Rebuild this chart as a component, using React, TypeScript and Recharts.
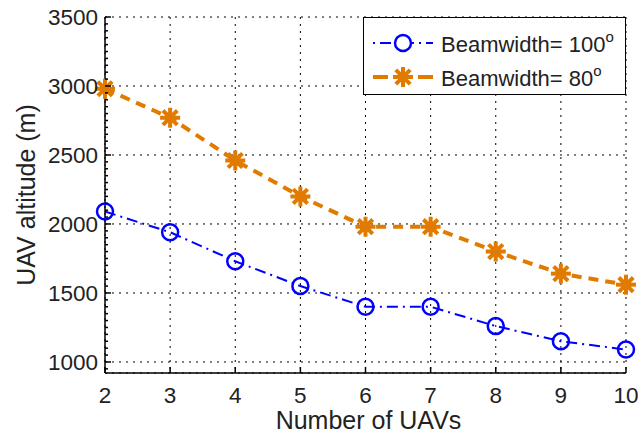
import { LineChart, Line, XAxis, YAxis, CartesianGrid, Legend } from "recharts";

const uavCounts = [2, 3, 4, 5, 6, 7, 8, 9, 10];
const altitudeBw100 = [2090, 1940, 1730, 1550, 1400, 1400, 1260, 1150, 1090];
const altitudeBw80 = [2980, 2770, 2460, 2200, 1980, 1980, 1800, 1640, 1560];

const xTicks = [2, 3, 4, 5, 6, 7, 8, 9, 10];
const yMajorTicks = [1000, 1500, 2000, 2500, 3000, 3500];
// minor ticks every 50 m on the left axis
const yMinorTicks = Array.from({ length: 52 }, (_, i) => 950 + i * 50);

const BLUE = "#0000ff";
const ORANGE = "#e07b00";
const FONT = "'Liberation Sans', Arial, sans-serif";
const BLUE_DASH = "11 5 2 5";
const ORANGE_DASH = "10 7";

const data = uavCounts.map((n, i) => ({
    n,
    bw100: altitudeBw100[i],
    bw80: altitudeBw80[i],
}));

const CircleDot = (props: any) => {
    const { cx, cy, index } = props;
    return <circle key={`c-${index}`} cx={cx} cy={cy} r={8} fill="none" stroke={BLUE} strokeWidth={2.5} />;
};

const StarMark = ({ cx, cy }: { cx: number; cy: number }) => {
    const r = 10;
    const d = r * 0.72;
    return (
        <g stroke={ORANGE} strokeWidth={4} strokeLinecap="butt">
            <line x1={cx - r} y1={cy} x2={cx + r} y2={cy} />
            <line x1={cx} y1={cy - r} x2={cx} y2={cy + r} />
            <line x1={cx - d} y1={cy - d} x2={cx + d} y2={cy + d} />
            <line x1={cx - d} y1={cy + d} x2={cx + d} y2={cy - d} />
            <circle cx={cx} cy={cy} r={5.5} fill={ORANGE} stroke="none" />
        </g>
    );
};

const StarDot = (props: any) => {
    const { cx, cy, index } = props;
    return <StarMark key={`s-${index}`} cx={cx} cy={cy} />;
};

const LeftTick = (props: any) => {
    const { x, y, payload } = props;
    const major = yMajorTicks.includes(payload.value);
    return (
        <g>
            <line x1={x} y1={y} x2={x + (major ? 6 : 3)} y2={y} stroke="#000" strokeWidth={1.5} />
            {major && (
                <text x={x - 7} y={y + 8} textAnchor="end" fontSize={22.5} fontFamily={FONT} fill="#222">
                    {payload.value}
                </text>
            )}
        </g>
    );
};

const RightTick = (props: any) => {
    const { x, y } = props;
    return <line x1={x} y1={y} x2={x - 6} y2={y} stroke="#000" strokeWidth={1.5} />;
};

const BottomTick = (props: any) => {
    const { x, y, payload } = props;
    return (
        <g>
            <line x1={x} y1={y} x2={x} y2={y - 6} stroke="#000" strokeWidth={1.5} />
            <text x={x} y={y + 30} textAnchor="middle" fontSize={22.5} fontFamily={FONT} fill="#222">
                {payload.value}
            </text>
        </g>
    );
};

const TopTick = (props: any) => {
    const { x, y } = props;
    return <line x1={x} y1={y} x2={x} y2={y + 6} stroke="#000" strokeWidth={1.5} />;
};

const LegendBox = () => (
    <svg width={263} height={78} style={{ display: "block" }}>
        <rect x={0.5} y={0.5} width={262} height={77} fill="#fff" stroke="#000" strokeWidth={1} />
        <line x1={10} y1={26} x2={70} y2={26} stroke={BLUE} strokeWidth={2} strokeDasharray="2 5 11 5" />
        <circle cx={40} cy={26} r={8} fill="#fff" stroke={BLUE} strokeWidth={2.5} />
        <text x={78} y={35} fontSize={22} fontFamily={FONT} fill="#222">
            Beamwidth= 100<tspan fontSize={15} dy={-10}>o</tspan>
        </text>
        <line x1={10} y1={60} x2={70} y2={60} stroke={ORANGE} strokeWidth={4} strokeDasharray="15 30" />
        <StarMark cx={40} cy={60} />
        <text x={78} y={69} fontSize={22} fontFamily={FONT} fill="#222">
            Beamwidth= 80<tspan fontSize={15} dy={-10}>o</tspan>
        </text>
    </svg>
);

const YTitle = (props: any) => {
    const { viewBox } = props;
    const x = viewBox.x + 35;
    const y = viewBox.y + viewBox.height / 2;
    return (
        <text x={x} y={y} transform={`rotate(-90, ${x}, ${y})`} textAnchor="middle" fontSize={25} fontFamily={FONT} fill="#222">
            UAV altitude (m)
        </text>
    );
};

const XTitle = (props: any) => {
    const { viewBox } = props;
    const x = viewBox.x + viewBox.width / 2 + 3;
    return (
        <text x={x} y={viewBox.y + 56} textAnchor="middle" fontSize={25} fontFamily={FONT} fill="#222">
            Number of UAVs
        </text>
    );
};

export default function App() {
    return (
        <div style={{ position: "absolute", left: 0, top: 0, background: "#fff" }}>
            <LineChart width={638} height={434} data={data} margin={{ top: 17, right: 12, bottom: 0, left: 0 }}>
                <CartesianGrid yAxisId="right" stroke="#000" strokeDasharray="2 5" strokeWidth={1} />
                <XAxis
                    dataKey="n"
                    type="number"
                    domain={[2, 10]}
                    ticks={xTicks}
                    interval={0}
                    tickSize={0}
                    tickMargin={0}
                    height={61}
                    axisLine={{ stroke: "#000", strokeWidth: 1.5 }}
                    tickLine={false}
                    tick={<BottomTick />}
                    label={<XTitle />}
                />
                <XAxis
                    xAxisId="top"
                    orientation="top"
                    dataKey="n"
                    type="number"
                    domain={[2, 10]}
                    ticks={xTicks}
                    interval={0}
                    tickSize={0}
                    tickMargin={0}
                    height={0}
                    axisLine={{ stroke: "#000", strokeWidth: 1.5 }}
                    tickLine={false}
                    tick={<TopTick />}
                />
                <YAxis
                    type="number"
                    domain={[920, 3500]}
                    allowDataOverflow
                    ticks={yMinorTicks}
                    interval={0}
                    tickSize={0}
                    tickMargin={0}
                    width={105}
                    axisLine={{ stroke: "#000", strokeWidth: 1.5 }}
                    tickLine={false}
                    tick={<LeftTick />}
                    label={<YTitle />}
                />
                <YAxis
                    yAxisId="right"
                    orientation="right"
                    type="number"
                    domain={[920, 3500]}
                    allowDataOverflow
                    ticks={yMajorTicks}
                    interval={0}
                    tickSize={0}
                    tickMargin={0}
                    width={0}
                    axisLine={{ stroke: "#000", strokeWidth: 1.5 }}
                    tickLine={false}
                    tick={<RightTick />}
                />
                <Legend
                    layout="horizontal"
                    verticalAlign="middle"
                    content={<LegendBox />}
                    wrapperStyle={{ top: 17, left: 363, width: 263, height: 78 }}
                />
                <Line
                    type="linear"
                    dataKey="bw100"
                    name="Beamwidth= 100°"
                    stroke={BLUE}
                    strokeWidth={2}
                    strokeDasharray={BLUE_DASH}
                    dot={CircleDot}
                    activeDot={false}
                    isAnimationActive={false}
                />
                <Line
                    type="linear"
                    dataKey="bw80"
                    name="Beamwidth= 80°"
                    stroke={ORANGE}
                    strokeWidth={4}
                    strokeDasharray={ORANGE_DASH}
                    dot={StarDot}
                    activeDot={false}
                    isAnimationActive={false}
                />
            </LineChart>
        </div>
    );
}
